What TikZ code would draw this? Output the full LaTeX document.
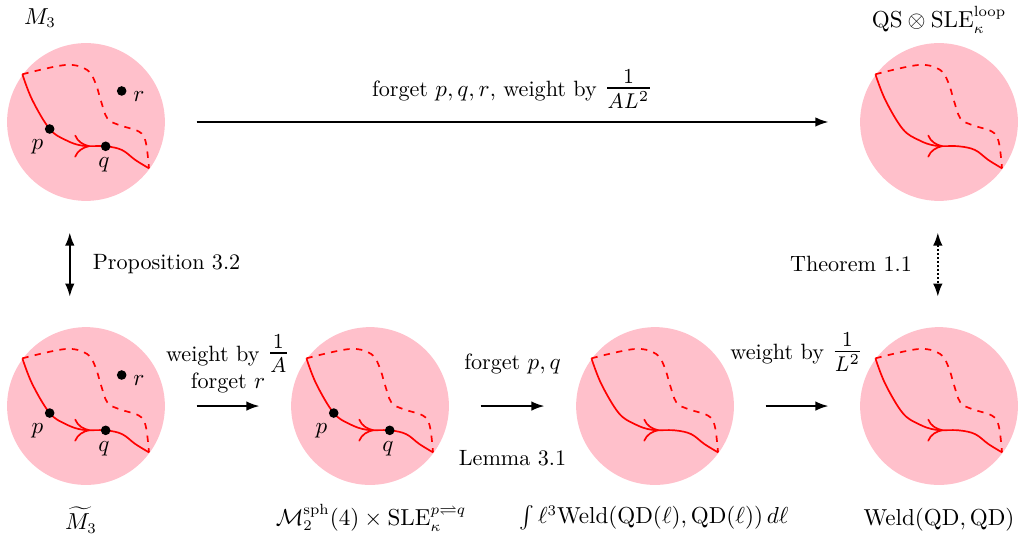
\documentclass[tikz,border=0pt]{standalone}
\usepackage{amsmath}
\usepackage{amssymb}
\usepackage{graphicx}
\usetikzlibrary{positioning,arrows.meta,decorations.markings}
\definecolor{diskpink}{RGB}{255,192,203}
\newcommand{\wfrac}[2]{\scalebox{1.3}[1.45]{$\frac{#1}{#2}$}}

\tikzset{
  disk/.style={circle,fill=diskpink,minimum size=2.63cm,inner sep=0pt},
  mapto/.style={-{Latex[length=2.2mm,width=1.6mm]},line width=0.9pt,shorten <=0.52cm,shorten >=0.52cm},
  equiv/.style={{Latex[length=2.2mm,width=1.6mm]}-{Latex[length=2.2mm,width=1.6mm]},line width=0.9pt,shorten <=0.52cm,shorten >=0.5cm},
  ptdot/.style={circle,fill=black,inner sep=0pt,minimum size=1.6mm},
  pics/sleloop/.style={code={
    % dashed half of the loop
    \draw[red,thick,dashed] plot[smooth,tension=0.6] coordinates {(-1.06,0.795) (-0.34,0.95) (0.02,0.867) (0.16,0.644) (0.245,0.367) (0.356,0.06) (0.55,-0.05) (0.883,-0.16) (0.995,-0.33) (1.05,-0.772)};
    % solid half with the orientation arrow
    \draw[red,thick,postaction={decorate},decoration={markings,mark=at position 0.62 with {\arrow{To[length=2.6mm,width=3.8mm]}}}]
      plot[smooth,tension=0.6] coordinates {(-1.06,0.795) (-0.895,0.367) (-0.605,-0.117) (-0.34,-0.3) (-0.06,-0.395) (0.328,-0.405) (0.6,-0.467) (0.822,-0.633) (1.05,-0.772)};
  }},
  pics/pqpts/.style={code={
    \node[ptdot] (-p) at (-0.605,-0.117) {};
    \node[ptdot] (-q) at (0.328,-0.405) {};
    \node (-plab) at (-0.81,-0.41) {$p$};
    \node (-qlab) at (0.3,-0.717) {$q$};
  }},
  pics/rpt/.style={code={
    \node[ptdot] (-r) at (0.595,0.517) {};
    \node (-rlab) at (0.883,0.42) {$r$};
  }}
}

\begin{document}
\begin{tikzpicture}[font=\fontsize{10.5}{13}\selectfont]
  \useasboundingbox (0,0) rectangle (16.983,-9.067);

  % disks
  \node[disk] (m3) at (1.433,-2.033) {};
  \node[disk] (qs) at (15.65,-2.033) {};
  \node[disk] (m3t) at (1.433,-6.767) {};
  \node[disk] (sph) at (6.167,-6.767) {};
  \node[disk] (int) at (10.917,-6.767) {};
  \node[disk] (weld) at (15.65,-6.767) {};

  \foreach \d in {m3,qs,m3t,sph,int,weld}
    \pic at (\d.center) {sleloop};
  \pic (m3pt) at (m3.center) {pqpts};
  \pic (m3pt) at (m3.center) {rpt};
  \pic (m3tpt) at (m3t.center) {pqpts};
  \pic (m3tpt) at (m3t.center) {rpt};
  \pic (sphpt) at (sph.center) {pqpts};

  % names of the measures
  \node (m3name) at (0.667,-0.3) {$M_3$};
  \node (qsname) at (15.65,-0.33) {$\mathrm{QS}\otimes\mathrm{SLE}_\kappa^{\mathrm{loop}}$};
  \node (m3tname) at (1.35,-8.67) {$\widetilde{M_3}$};
  \node (sphname) at (6.183,-8.63) {$\mathcal{M}_2^{\mathrm{sph}}(4)\times\mathrm{SLE}_\kappa^{p\rightleftharpoons q}$};
  \node (intname) at (10.9,-8.63) {$\int\ell^3\mathrm{Weld}(\mathrm{QD}(\ell),\mathrm{QD}(\ell))\,d\ell$};
  \node (weldname) at (15.65,-8.67) {$\mathrm{Weld}(\mathrm{QD},\mathrm{QD})$};

  % maps
  \draw[mapto] (m3) -- node[above=0.1cm] {forget $p,q,r$, weight by \wfrac{1}{AL^2}} (qs);
  \draw[mapto] (m3t) -- node[above=0.08cm,align=center] {weight by \wfrac{1}{A}\\forget $r$} (sph);
  \draw[mapto] (sph) -- node[above=0.4cm] {forget $p,q$} node[below=0.6cm] {Lemma 3.1} (int);
  \draw[mapto] (int) -- node[above=0.45cm] {weight by \wfrac{1}{L^2}} (weld);
  \draw[equiv] ([xshift=-0.27cm]m3.south) -- node[right=0.25cm] {Proposition 3.2} ([xshift=-0.27cm]m3t.north);
  \draw[equiv,densely dotted] ([xshift=-0.02cm]qs.south) -- node[left=0.3cm] {Theorem 1.1} ([xshift=-0.02cm]weld.north);
\end{tikzpicture}
\end{document}
